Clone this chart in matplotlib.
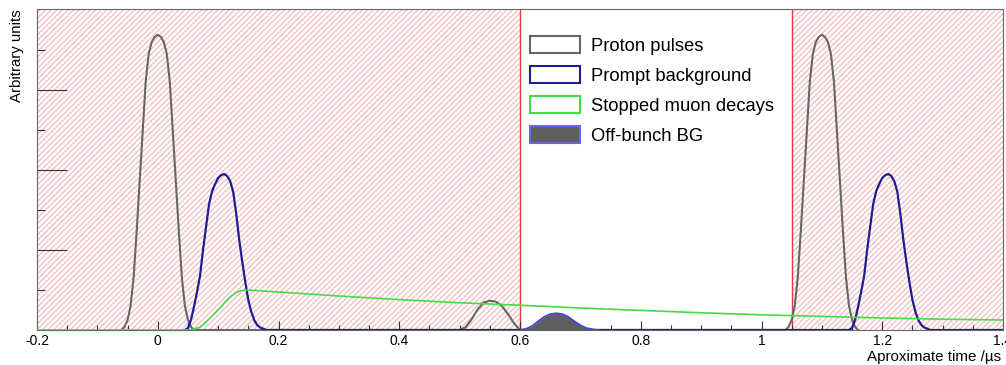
import matplotlib
matplotlib.use("Agg")
import matplotlib.pyplot as plt
from matplotlib.patches import Patch

plt.rcParams['font.family'] = ['Liberation Sans', 'DejaVu Sans']
plt.rcParams['hatch.linewidth'] = 0.7

# bunch timing (us)
bunch_centres = [0.0, 1.1]
prompt_delay = 0.11
veto_windows = [(-0.2, 0.6), (1.05, 1.4)]

# proton pulse profile
pulse_offset = [-0.06, -0.055, -0.05, -0.045, -0.04, -0.035, -0.03, -0.025, -0.02,
                -0.015, -0.01, -0.005, 0.0, 0.005, 0.01, 0.015, 0.02, 0.025, 0.03,
                0.035, 0.04, 0.045, 0.05, 0.055, 0.06]
pulse_height = [0.0, 0.08, 0.25, 0.6, 1.3, 2.45, 3.7, 4.95, 6.2, 6.9, 7.2, 7.33, 7.38,
                7.33, 7.2, 6.9, 6.2, 4.95, 3.7, 2.45, 1.3, 0.6, 0.25, 0.08, 0.0]

# small leaked pulse between bunches
leak_t = [0.50, 0.51, 0.52, 0.53, 0.54, 0.55, 0.56, 0.57, 0.58, 0.59, 0.60]
leak_a = [0.0, 0.07, 0.27, 0.52, 0.69, 0.73, 0.71, 0.6, 0.4, 0.17, 0.0]

# prompt background profile (relative to prompt peak)
prompt_offset = [-0.065, -0.06, -0.055, -0.05, -0.045, -0.04, -0.035, -0.03, -0.025,
                 -0.02, -0.015, -0.01, -0.005, 0.0, 0.005, 0.01, 0.015, 0.02, 0.025,
                 0.03, 0.035, 0.04, 0.045, 0.05, 0.055, 0.06, 0.065, 0.07]
prompt_height = [0.0, 0.05, 0.25, 0.58, 0.95, 1.35, 2.0, 2.58, 3.15, 3.47, 3.65, 3.8,
                 3.87, 3.9, 3.85, 3.72, 3.45, 2.9, 2.25, 1.7, 1.2, 0.75, 0.45, 0.24,
                 0.12, 0.06, 0.03, 0.0]

# stopped muon decays
muon_t = [-0.2, 0.05, 0.06, 0.07, 0.08, 0.09, 0.10, 0.11, 0.12, 0.13, 0.14, 0.15, 0.2,
          0.3, 0.4, 0.5, 0.6, 0.7, 0.8, 0.9, 1.0, 1.1, 1.2, 1.3, 1.4]
muon_a = [0.0, 0.0, 0.02, 0.07, 0.2, 0.35, 0.5, 0.67, 0.83, 0.94, 0.99, 1.0, 0.95,
          0.85, 0.76, 0.68, 0.62, 0.55, 0.49, 0.43, 0.38, 0.34, 0.3, 0.27, 0.25]

# off-bunch background
offb_t = [0.60, 0.61, 0.62, 0.63, 0.64, 0.65, 0.66, 0.67, 0.68, 0.69, 0.70, 0.71, 0.72, 0.73]
offb_a = [0.0, 0.03, 0.1, 0.22, 0.33, 0.4, 0.42, 0.4, 0.33, 0.22, 0.12, 0.05, 0.02, 0.0]

xtick_vals = [-0.2, 0.0, 0.2, 0.4, 0.6, 0.8, 1.0, 1.2, 1.4]
xtick_labels = ['-0.2', '0', '0.2', '0.4', '0.6', '0.8', '1', '1.2', '1.4']

c_proton = '#666666'
c_prompt = '#1c1c96'
c_muon = '#44dd44'
c_offb = '#5f5f5f'
c_offb_edge = '#4040f0'

fig = plt.figure(figsize=(10.06, 3.65), dpi=100)
ax = fig.add_axes([37 / 1006, 35 / 365, 966 / 1006, 321 / 365])

for lo, hi in veto_windows:
    ax.axvspan(lo, hi, facecolor='none', edgecolor='#f5aaaa', hatch='//////',
               linewidth=0, zorder=0)
ax.axvline(0.6, color='#e83a3a', lw=1.0, zorder=1)
ax.axvline(1.05, color='#e83a3a', lw=1.0, zorder=1)

# proton pulses
proton_t, proton_a = [], []
for c in bunch_centres:
    proton_t += [c + o for o in pulse_offset]
    proton_a += pulse_height
    if c == bunch_centres[0]:
        proton_t += leak_t
        proton_a += leak_a
ax.plot(proton_t, proton_a, color=c_proton, lw=1.5, zorder=2)

# prompt background
prompt_t, prompt_a = [0.045], [0.0]
for c in bunch_centres:
    prompt_t += [c + prompt_delay + o for o in prompt_offset]
    prompt_a += prompt_height
prompt_t.append(1.4)
prompt_a.append(0.0)
ax.plot(prompt_t, prompt_a, color=c_prompt, lw=1.6, zorder=3)

ax.plot(muon_t, muon_a, color=c_muon, lw=1.2, zorder=4)

ax.fill_between(offb_t, offb_a, color=c_offb, lw=0, zorder=5)
ax.plot(offb_t, offb_a, color=c_offb_edge, lw=1.2, zorder=5)

ax.set_xlim(-0.2, 1.4)
ax.set_ylim(0, 8.025)
ax.set_xticks(xtick_vals)
ax.set_xticklabels(xtick_labels)
ax.set_xticks([-0.15 + 0.05 * i for i in range(31) if (i + 1) % 4 != 0], minor=True)
ax.set_yticks([2, 4, 6])
ax.set_yticks([1, 3, 5, 7], minor=True)
ax.set_yticklabels([])
ax.tick_params(axis='x', which='major', direction='in', length=6.5, width=0.8,
               color='#333333', labelsize=10, pad=3)
ax.tick_params(axis='x', which='minor', direction='in', length=3.3, width=0.8,
               color='#333333')
ax.tick_params(axis='y', which='major', direction='in', length=21.6, width=0.8,
               color='#333333')
ax.tick_params(axis='y', which='minor', direction='in', length=5.4, width=0.8,
               color='#333333')
for s in ax.spines.values():
    s.set_color('#666666')
    s.set_linewidth(0.8)

fig.text(17 / 1006, 1 - 9 / 365, 'Arbitrary units', rotation=90, ha='center',
         va='top', fontsize=10.8)
fig.text(1001 / 1006, 1 - 357 / 365, 'Aproximate time /\u00b5s', ha='right',
         va='center', fontsize=10.9)

handles = [
    Patch(facecolor='white', edgecolor=c_proton, lw=1.5, label='Proton pulses'),
    Patch(facecolor='white', edgecolor=c_prompt, lw=1.5, label='Prompt background'),
    Patch(facecolor='white', edgecolor=c_muon, lw=1.5, label='Stopped muon decays'),
    Patch(facecolor=c_offb, edgecolor='#6666ee', lw=1.5, label='Off-bunch BG'),
]
ax.legend(handles=handles, loc='upper left', bbox_to_anchor=(530 / 1006, 1 - 36 / 365),
          bbox_transform=fig.transFigure, frameon=False, fontsize=13.2,
          handlelength=2.72, handleheight=1.09, handletextpad=0.6,
          labelspacing=0.6, borderpad=0, borderaxespad=0)

fig.savefig('out.png', dpi=100)
